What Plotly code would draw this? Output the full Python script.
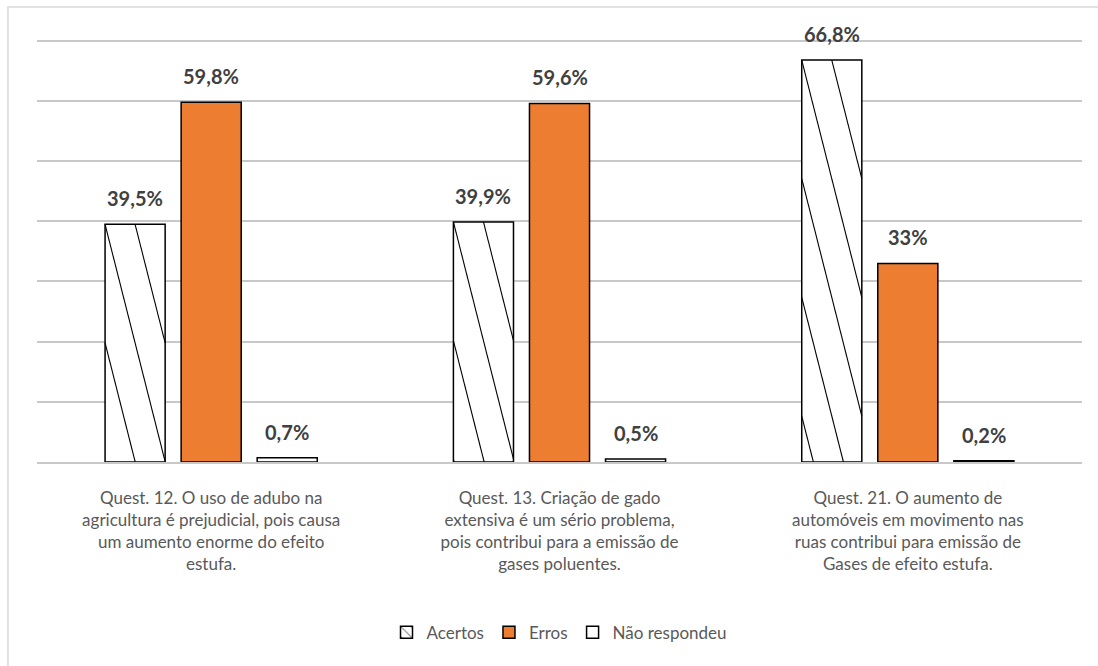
import plotly.graph_objects as go

categories = [
    "Quest. 12. O uso de adubo na<br>agricultura é prejudicial, pois causa<br>um aumento enorme do efeito<br>estufa.",
    "Quest. 13. Criação de gado<br>extensiva é um sério problema,<br>pois contribui para a emissão de<br>gases poluentes.",
    "Quest. 21. O aumento de<br>automóveis em movimento nas<br>ruas contribui para emissão de<br>Gases de efeito estufa.",
]
acertos = [39.5, 39.9, 66.8]
erros = [59.8, 59.6, 33.0]
nao_respondeu = [0.7, 0.5, 0.2]

FONT = "Lato"
Y_MAX = 70.3
BARGAP = 0.345
BARGROUPGAP = 0.21
N_SERIES = 3
MARGIN = dict(l=37, r=16, t=39, b=204)
W, H = 1098, 666


def fmt(v):
    s = f"{v:.1f}".replace(".", ",")
    if s.endswith(",0"):
        s = s[:-2]
    return s + "%"


label_font = dict(family=FONT, size=20, color="#404040", weight="bold")

fig = go.Figure()
# legend-only entry carrying a small hatch swatch
fig.add_trace(go.Bar(
    name="Acertos", x=[categories[0]], y=[None], offsetgroup="a",
    marker=dict(color="white", line=dict(color="black", width=1.5),
                pattern=dict(shape="\\", fgcolor="black", bgcolor="white",
                             size=9, solidity=0.15)),
))
fig.add_trace(go.Bar(
    name="Acertos", x=categories, y=acertos, offsetgroup="a", showlegend=False,
    marker=dict(color="white", line=dict(color="black", width=1.5)),
))
fig.add_trace(go.Bar(
    name="Erros", x=categories, y=erros, offsetgroup="b",
    marker=dict(color="#ED7D31", line=dict(color="black", width=1.5)),
))
fig.add_trace(go.Bar(
    name="Não respondeu", x=categories, y=nao_respondeu, offsetgroup="c",
    marker=dict(color="white", line=dict(color="black", width=1.5)),
))

plot_w = W - MARGIN["l"] - MARGIN["r"]
plot_h = H - MARGIN["t"] - MARGIN["b"]
px_per_x = plot_w / len(categories)
px_per_y = plot_h / Y_MAX
slot = (1 - BARGAP) / N_SERIES
bar_w = slot * (1 - BARGROUPGAP)

# Value labels above every bar
for j, series in enumerate([acertos, erros, nao_respondeu]):
    for i, v in enumerate(series):
        fig.add_annotation(x=i + (j - 1) * slot, y=v, xref="x", yref="y",
                           text=fmt(v), showarrow=False, yanchor="bottom",
                           yshift=12, font=label_font)

# Steep diagonal hatch inside the "Acertos" bars, clipped to each bar
steep = 3.95                      # vertical px per horizontal px
spacing = bar_w / 2               # horizontal distance between hatch lines
slope = steep * px_per_x / px_per_y   # in data units (% per category unit)

for i, v in enumerate(acertos):
    centre = i - slot
    xl, xr = centre - bar_w / 2, centre + bar_w / 2
    span_x = v / slope            # horizontal run of a line across the full bar height
    k = 1
    while True:
        xs = xl + k * spacing
        if xs + span_x < xl:
            break
        a = max(xl, xs)
        b = min(xr, xs + span_x)
        if a < b:
            fig.add_shape(type="line", xref="x", yref="y",
                          x0=a, y0=v - slope * (a - xs),
                          x1=b, y1=v - slope * (b - xs),
                          line=dict(color="black", width=1.1), layer="above")
        k -= 1

# Outer chart frame
fig.add_shape(type="rect", xref="paper", yref="paper",
              x0=-0.0278, x1=1.06, y0=-0.6, y1=1.0757,
              line=dict(color="#d9d9d9", width=1.5), fillcolor="rgba(0,0,0,0)",
              layer="below")

fig.update_layout(
    width=W, height=H,
    margin=MARGIN,
    paper_bgcolor="white", plot_bgcolor="white",
    barmode="group", bargap=BARGAP, bargroupgap=BARGROUPGAP,
    font=dict(family=FONT, size=17, color="#595959"),
    showlegend=True,
    legend=dict(orientation="h", x=0.5, xanchor="center",
                yref="container", y=0.05, yanchor="middle",
                font=dict(family=FONT, size=17, color="#595959"),
                itemwidth=30, traceorder="normal"),
)
fig.update_xaxes(showgrid=False, showline=True, linecolor="#c8c8c8", linewidth=1.5,
                 ticks="", ticklabelstandoff=20,
                 tickfont=dict(family=FONT, size=17, color="#595959"))
fig.update_yaxes(range=[0, Y_MAX], dtick=10, showticklabels=False, showgrid=True,
                 gridcolor="#c8c8c8", gridwidth=1.5, zeroline=False, ticks="")

fig.write_html("out.html")
